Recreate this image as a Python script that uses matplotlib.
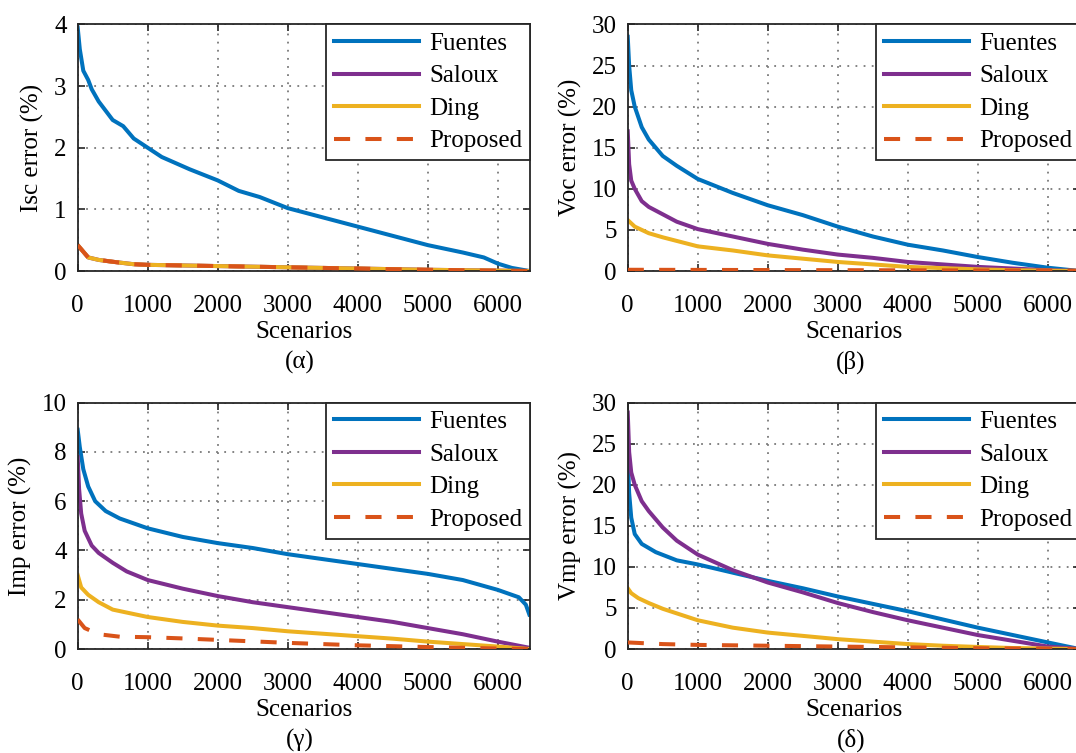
import numpy as np
import matplotlib
matplotlib.use('Agg')
import matplotlib.pyplot as plt

plt.rcParams['font.family'] = ['Liberation Serif', 'DejaVu Serif']

methods = ['Fuentes', 'Saloux', 'Ding', 'Proposed']
colors = ['#0072BD', '#7E2F8E', '#EDB120', '#D95319']

# (α) Isc error
isc_fuentes_x = [0, 30, 80, 150, 200, 300, 400, 500, 650, 800, 1000, 1200, 1500, 1600, 2000,
                 2300, 2600, 3000, 3500, 4000, 4500, 5000, 5500, 5800, 6000, 6200, 6450]
isc_fuentes_y = [3.95, 3.6, 3.25, 3.1, 2.95, 2.75, 2.6, 2.45, 2.35, 2.15, 2.0, 1.85, 1.7, 1.65, 1.47,
                 1.3, 1.2, 1.02, 0.87, 0.72, 0.57, 0.42, 0.3, 0.22, 0.12, 0.05, 0.0]
isc_low_x = [0, 150, 300, 500, 800, 1000, 2000, 3000, 4000, 5000, 6450]
isc_saloux_y = [0.42, 0.22, 0.18, 0.15, 0.11, 0.10, 0.08, 0.06, 0.04, 0.02, 0.0]
isc_ding_y = [0.42, 0.22, 0.18, 0.15, 0.11, 0.10, 0.08, 0.06, 0.04, 0.02, 0.0]
isc_prop_y = [0.42, 0.22, 0.18, 0.15, 0.11, 0.10, 0.08, 0.06, 0.04, 0.02, 0.0]

# (β) Voc error
voc_fuentes_x = [0, 20, 50, 100, 200, 300, 500, 700, 1000, 1500, 2000, 2500, 3000, 3500,
                 4000, 4500, 5000, 5500, 6000, 6450]
voc_fuentes_y = [28.5, 25, 22, 20, 17.5, 16, 14, 12.8, 11.2, 9.5, 8.0, 6.8, 5.4, 4.2,
                 3.2, 2.5, 1.7, 1.0, 0.4, 0.0]
voc_saloux_x = voc_fuentes_x
voc_saloux_y = [17, 13, 11, 10, 8.5, 7.8, 6.9, 6.0, 5.1, 4.2, 3.3, 2.6, 2.0, 1.6,
                1.1, 0.8, 0.5, 0.3, 0.1, 0.0]
voc_ding_x = [0, 100, 300, 500, 1000, 1500, 2000, 2500, 3000, 3500, 4000, 4500, 5000, 5500, 6450]
voc_ding_y = [6.2, 5.4, 4.6, 4.1, 3.0, 2.5, 1.9, 1.5, 1.1, 0.8, 0.5, 0.35, 0.2, 0.1, 0.0]
voc_prop_x = [0, 3000, 6450]
voc_prop_y = [0.15, 0.1, 0.05]

# (γ) Imp error
imp_fuentes_x = [0, 30, 80, 150, 250, 400, 600, 1000, 1500, 2000, 2500, 3000, 3500, 4000,
                 4500, 5000, 5500, 6000, 6300, 6400, 6450]
imp_fuentes_y = [8.9, 8.2, 7.3, 6.6, 6.0, 5.6, 5.3, 4.9, 4.55, 4.3, 4.1, 3.85, 3.65, 3.45,
                 3.25, 3.05, 2.8, 2.4, 2.1, 1.8, 1.4]
imp_saloux_x = [0, 20, 50, 100, 200, 300, 500, 700, 1000, 1500, 2000, 2500, 3000, 3500,
                4000, 4500, 5000, 5500, 6000, 6450]
imp_saloux_y = [7.8, 6.5, 5.5, 4.8, 4.2, 3.9, 3.5, 3.15, 2.8, 2.45, 2.15, 1.9, 1.7, 1.5,
                1.3, 1.1, 0.85, 0.6, 0.3, 0.05]
imp_ding_x = [0, 50, 150, 300, 500, 1000, 1500, 2000, 2500, 3000, 3500, 4000, 4500, 5000,
              5500, 6000, 6450]
imp_ding_y = [3.0, 2.5, 2.2, 1.9, 1.6, 1.3, 1.1, 0.95, 0.85, 0.72, 0.62, 0.52, 0.42, 0.3,
              0.2, 0.1, 0.0]
imp_prop_x = [0, 100, 300, 600, 1000, 1500, 2000, 3000, 4000, 5000, 6000, 6450]
imp_prop_y = [1.2, 0.85, 0.6, 0.5, 0.48, 0.43, 0.37, 0.25, 0.15, 0.08, 0.02, 0.0]

# (δ) Vmp error
vmp_fuentes_x = [0, 20, 50, 100, 200, 400, 700, 1000, 1500, 2000, 2500, 3000, 3500, 4000,
                 4500, 5000, 5500, 6000, 6450]
vmp_fuentes_y = [23.5, 19, 16, 14, 12.8, 11.8, 10.8, 10.3, 9.3, 8.3, 7.4, 6.4, 5.5, 4.6,
                 3.6, 2.6, 1.7, 0.8, 0.0]
vmp_saloux_x = [0, 20, 50, 100, 200, 300, 500, 700, 1000, 1500, 2000, 2500, 3000, 3500,
                4000, 4500, 5000, 5500, 6000, 6450]
vmp_saloux_y = [28.8, 24, 21.5, 20, 18, 16.8, 14.8, 13.2, 11.5, 9.6, 8.1, 6.9, 5.6, 4.5,
                3.5, 2.6, 1.7, 1.0, 0.3, 0.0]
vmp_ding_x = [0, 50, 150, 300, 500, 1000, 1500, 2000, 2500, 3000, 3500, 4000, 4500, 5000,
              5500, 6000, 6450]
vmp_ding_y = [7.4, 6.8, 6.2, 5.6, 4.9, 3.5, 2.6, 2.0, 1.6, 1.2, 0.9, 0.6, 0.4, 0.25,
              0.12, 0.05, 0.0]
vmp_prop_x = [0, 500, 1000, 2000, 3000, 4000, 5000, 6450]
vmp_prop_y = [0.8, 0.6, 0.5, 0.4, 0.3, 0.2, 0.1, 0.0]

panels = [
    dict(pos=[0.0722, 0.6401, 0.4204, 0.3274], ylabel='Isc error (%)', ylim=(0, 4),
         yticks=[0, 1, 2, 3, 4], caption='(α)', cap=(300, 362),
         series=[(isc_fuentes_x, isc_fuentes_y), (isc_low_x, isc_saloux_y),
                 (isc_low_x, isc_ding_y), (isc_low_x, isc_prop_y)]),
    dict(pos=[0.5834, 0.6401, 0.4204, 0.3274], ylabel='Voc error (%)', ylim=(0, 30),
         yticks=[0, 5, 10, 15, 20, 25, 30], caption='(β)', cap=(851, 362),
         series=[(voc_fuentes_x, voc_fuentes_y), (voc_saloux_x, voc_saloux_y),
                 (voc_ding_x, voc_ding_y), (voc_prop_x, voc_prop_y)]),
    dict(pos=[0.0722, 0.1381, 0.4204, 0.3271], ylabel='Imp error (%)', ylim=(0, 10),
         yticks=[0, 2, 4, 6, 8, 10], caption='(γ)', cap=(300, 740),
         series=[(imp_fuentes_x, imp_fuentes_y), (imp_saloux_x, imp_saloux_y),
                 (imp_ding_x, imp_ding_y), (imp_prop_x, imp_prop_y)]),
    dict(pos=[0.5834, 0.1381, 0.4204, 0.3271], ylabel='Vmp error (%)', ylim=(0, 30),
         yticks=[0, 5, 10, 15, 20, 25, 30], caption='(δ)', cap=(851, 740),
         series=[(vmp_fuentes_x, vmp_fuentes_y), (vmp_saloux_x, vmp_saloux_y),
                 (vmp_ding_x, vmp_ding_y), (vmp_prop_x, vmp_prop_y)]),
]

fs = 18
W, H = 1076, 753
fig = plt.figure(figsize=(W / 100, H / 100), dpi=100)

for p in panels:
    ax = fig.add_axes(p['pos'])
    for name, col, (xs, ys) in zip(methods, colors, p['series']):
        if name == 'Proposed':
            ax.plot(xs, ys, color=col, lw=2.9, ls=(0, (4, 3.8)), label=name, zorder=5)
        else:
            ax.plot(xs, ys, color=col, lw=2.9, label=name)
    ax.set_xlim(0, 6460)
    ax.set_ylim(*p['ylim'])
    ax.set_xticks([0, 1000, 2000, 3000, 4000, 5000, 6000])
    ax.set_yticks(p['yticks'])
    ax.grid(True, ls=(0, (1, 3.5)), color='#7a7a7a', lw=1.3)
    ax.tick_params(direction='in', top=True, right=True, length=5, width=1.2,
                   labelsize=fs, color='#262626')
    ax.tick_params(axis='x', pad=17)
    ax.tick_params(axis='y', pad=8)
    for s in ax.spines.values():
        s.set_linewidth(1.3)
        s.set_color('#262626')
    ax.set_xlabel('Scenarios', fontsize=fs, labelpad=3)
    ax.set_ylabel(p['ylabel'], fontsize=fs, labelpad=7)
    leg = ax.legend(loc='upper right', fontsize=fs, borderaxespad=0, fancybox=False,
                    edgecolor='#262626', framealpha=1, handlelength=3.4,
                    labelspacing=0.4, handletextpad=0.4, borderpad=0.32)
    leg.get_frame().set_linewidth(1.3)
    fig.text(p['cap'][0] / W, 1 - p['cap'][1] / H, p['caption'], fontsize=fs,
             ha='center', va='center')

fig.savefig('out.png', dpi=100)
